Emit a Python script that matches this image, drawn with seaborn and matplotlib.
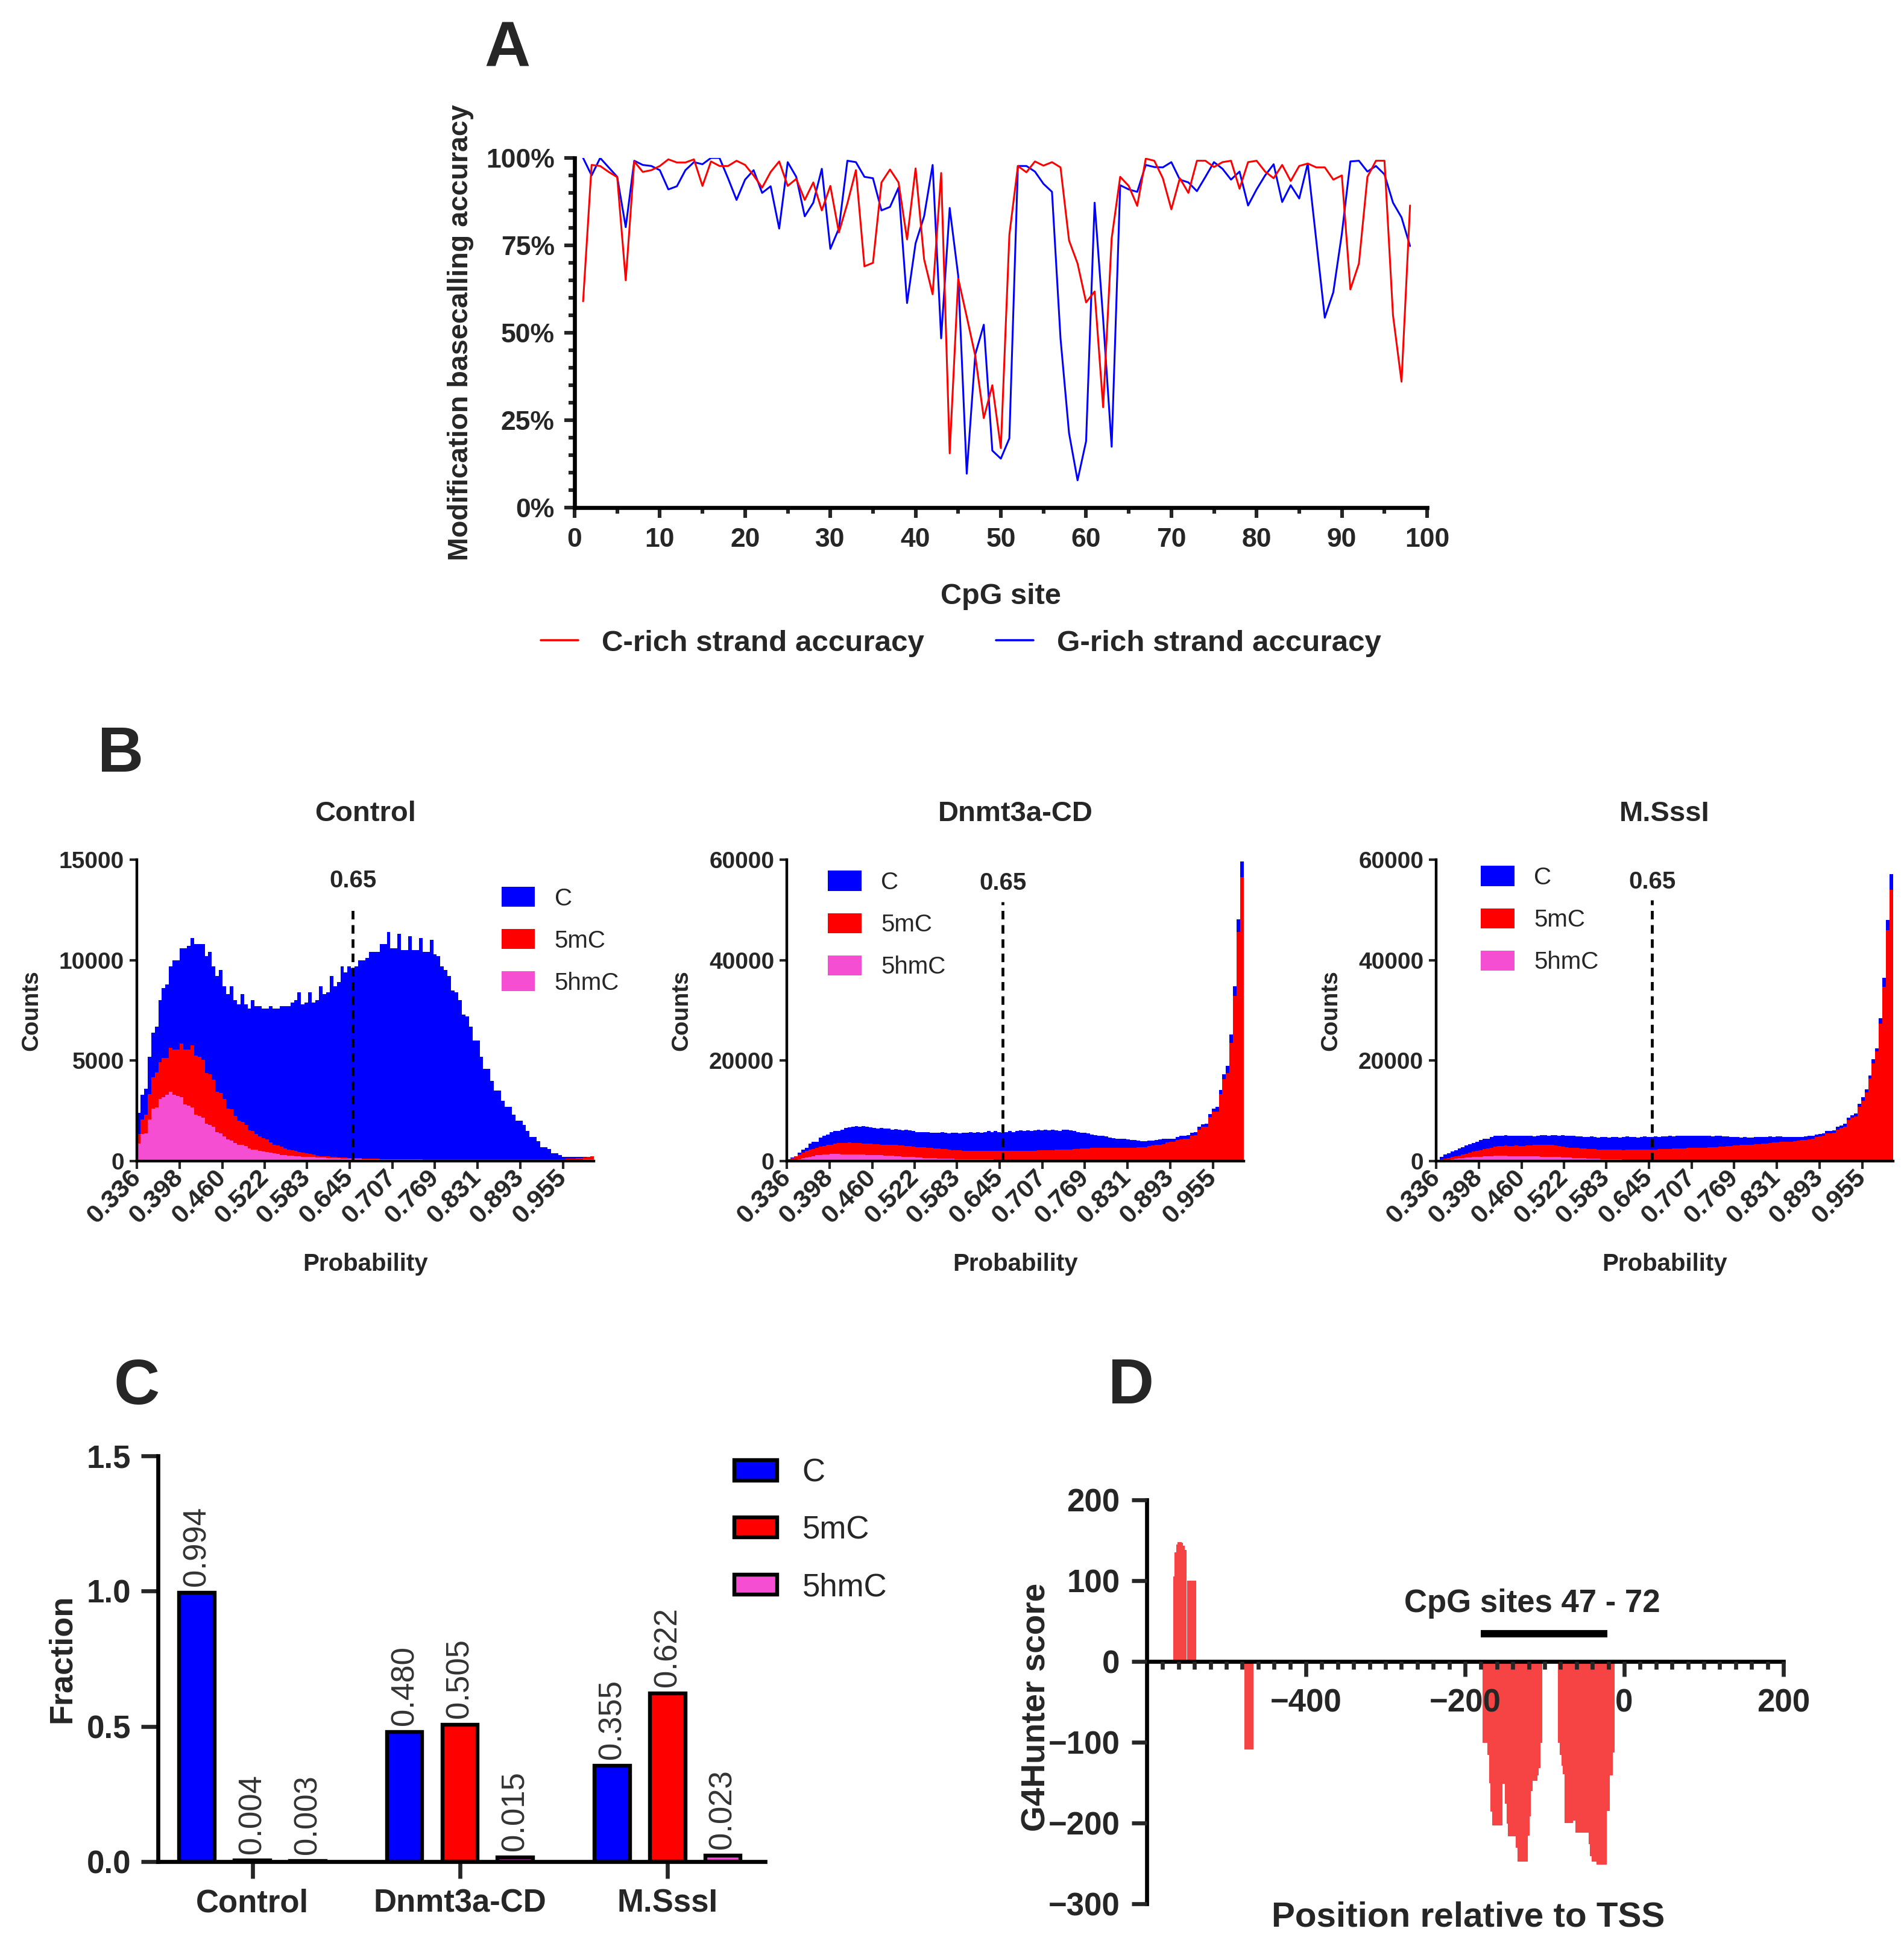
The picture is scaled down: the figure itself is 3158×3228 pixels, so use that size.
import numpy as np
import pandas as pd
import matplotlib
matplotlib.use("Agg")
import matplotlib.pyplot as plt
from matplotlib.patches import Patch
from matplotlib.lines import Line2D
from matplotlib.ticker import MultipleLocator, FixedLocator, FuncFormatter
import seaborn as sns

# ---------------- data: panel A ----------------
cpg_sites = list(range(1, 99))
c_rich_acc = [59, 98, 97.7, 96, 94.5, 65, 99, 96, 96.5, 97.7,
              99.6, 98.7, 98.7, 99.6, 92, 99, 97.7, 97.7, 99.2, 98,
              95, 91.5, 96, 99, 92, 94, 88, 93, 85, 92,
              78.7, 87, 96.5, 69, 70, 93, 96.7, 93, 76.7, 97,
              71, 61, 95.7, 15.5, 65.5, 54.6, 43.4, 25.6, 35, 17,
              78, 97.7, 95.9, 99, 97.8, 98.8, 97.3, 76.4, 69.8, 58.7,
              61.8, 28.7, 77, 94.6, 92, 86.3, 99.8, 99.2, 94.2, 85.3,
              94.2, 90, 99.2, 99.2, 97.4, 98.8, 99.2, 91.2, 98.8, 99.2,
              96.1, 94.2, 98, 93.4, 97.7, 98.4, 97.3, 97.3, 93.8, 95,
              62.4, 69.8, 94.6, 99.2, 99.2, 55, 36, 86.4]
g_rich_acc = [100, 95, 100, 97.3, 94.6, 80.2, 99.2, 98, 97.7, 96.5,
              91, 91.9, 96.5, 98.8, 98.2, 100, 100, 94.2, 88, 93.8,
              96.5, 90, 91.9, 79.8, 98.8, 94.6, 83.3, 87.2, 96.9, 74,
              79.8, 99.2, 98.8, 94.6, 94.2, 85, 86, 91.5, 58.5, 75.6,
              83.3, 98, 48.4, 85.7, 66.3, 9.7, 43.8, 52.3, 16.3, 14,
              19.8, 97.7, 97.7, 96.1, 92.6, 90.3, 48.4, 21.3, 7.8, 19,
              87.2, 53.9, 17.4, 92.2, 91, 90.3, 98, 97.4, 97.3, 98.8,
              93.8, 93, 90.5, 94.6, 98.8, 96.9, 93.8, 96.1, 86.4, 91,
              95, 98.2, 87.4, 92.2, 88.4, 98.4, 76.4, 54.3, 61.6, 78.3,
              99, 99.2, 96.1, 97.7, 95.3, 87.2, 83, 74.8]

# ---------------- data: panel B (128 probability bins, 0.336 - 1.0) ----------------
prob_lo, prob_hi, n_bins = 0.336, 1.0, 128
prob_ticks = ['0.336', '0.398', '0.460', '0.522', '0.583', '0.645',
              '0.707', '0.769', '0.831', '0.893', '0.955']
# envelopes: all calls (C on top), 5mC+5hmC, 5hmC
ctrl_all = [2400, 3300, 3600, 5200, 6400, 6700, 8000, 8600, 8800, 9700,
            10000, 10000, 10600, 10600, 10700, 11100, 10800, 10800, 10800, 10200,
            10400, 9700, 9200, 9500, 8700, 8300, 8700, 8000, 7800, 8300,
            7800, 7600, 8000, 7700, 7700, 7600, 7600, 7700, 7600, 7600,
            7700, 7700, 7700, 7900, 8000, 8400, 7800, 7900, 8400, 7900,
            8000, 8700, 8300, 8400, 9200, 8700, 8900, 9700, 9400, 9700,
            9600, 9700, 10000, 10000, 10100, 10400, 10400, 10400, 10800, 10800,
            11400, 10600, 10600, 11300, 10500, 10500, 11200, 10500, 10500, 11100,
            10400, 10400, 11000, 10300, 10200, 9700, 9500, 9200, 8500, 8400,
            8000, 7300, 7200, 6700, 6000, 6000, 5200, 4600, 4600, 4000,
            3500, 3500, 3000, 2700, 2700, 2300, 2000, 2000, 1800, 1500,
            1200, 1200, 1000, 700, 700, 600, 400, 400, 300, 200,
            200, 200, 200, 200, 200, 200, 200, 250]
ctrl_mod = [1340, 2060, 2310, 3340, 4160, 4420, 4930, 5140, 5140, 5650,
            5550, 5550, 5860, 5550, 5550, 5760, 5240, 5190, 5040, 4370,
            4320, 4060, 3440, 3390, 3080, 2620, 2570, 2260, 2000, 1950,
            1800, 1540, 1490, 1340, 1230, 1130, 1080, 920, 820, 770,
            720, 620, 560, 530, 510, 460, 430, 390, 360, 330,
            260, 240, 240, 230, 210, 200, 190, 180, 170, 160,
            150, 140, 140, 130, 120, 120, 110, 110, 100, 100,
            100, 100, 100, 100, 100, 100, 100, 100, 100, 100,
            100, 100, 100, 100, 100, 100, 100, 100, 100, 100,
            100, 100, 100, 100, 100, 100, 100, 100, 100, 100,
            100, 100, 100, 100, 100, 100, 100, 100, 100, 100,
            100, 100, 100, 100, 100, 100, 100, 100, 100, 100,
            110, 120, 130, 140, 160, 180, 200, 250]
ctrl_hmc = [870, 1340, 1390, 2060, 2620, 2670, 3080, 3190, 3290, 3440,
            3290, 3240, 3190, 2830, 2770, 2670, 2310, 2260, 2160, 1850,
            1800, 1700, 1440, 1390, 1230, 1080, 1030, 900, 820, 820,
            750, 620, 570, 570, 510, 490, 460, 410, 390, 360,
            310, 310, 280, 260, 240, 230, 220, 210, 200, 200,
            190, 180, 170, 160, 150, 150, 140, 130, 130, 120,
            120, 110, 110, 100, 100, 100, 90, 90, 90, 90,
            90, 80, 80, 80, 80, 80, 80, 80, 80, 80,
            70, 70, 70, 70, 70, 70, 70, 70, 70, 70,
            70, 70, 70, 70, 70, 70, 70, 70, 70, 70,
            60, 60, 60, 60, 60, 60, 60, 60, 60, 60,
            60, 60, 60, 60, 60, 60, 60, 60, 60, 60,
            60, 60, 60, 60, 70, 80, 90, 100]

dn_all = [400, 700, 1000, 1700, 2300, 2600, 3500, 3800, 3800, 4700,
          5000, 5300, 5800, 6000, 6000, 6300, 6600, 6700, 6900, 7000,
          6900, 7000, 6900, 6700, 6600, 6500, 6600, 6500, 6500, 6300,
          6400, 6300, 6100, 6300, 6100, 6000, 5800, 5800, 5800, 5800,
          5700, 5700, 5700, 5800, 5700, 5500, 5700, 5600, 5500, 5600,
          5700, 5800, 5700, 5800, 5700, 5800, 6000, 5800, 6000, 5800,
          5700, 5800, 6000, 5800, 6000, 6100, 6000, 6100, 6000, 6100,
          6200, 6100, 6300, 6100, 6200, 6100, 6000, 6300, 6200, 6100,
          6000, 5800, 5700, 5600, 5500, 5300, 5200, 5000, 5000, 4900,
          4700, 4600, 4500, 4400, 4400, 4300, 4200, 4200, 4100, 4000,
          4000, 4100, 4100, 4200, 4300, 4400, 4400, 4500, 4500, 4800,
          5000, 5000, 5200, 5700, 5800, 6900, 7300, 7400, 9400, 10500,
          10800, 14200, 17300, 19000, 25200, 34800, 48100, 59600]
dn_mod = [300, 550, 1000, 1350, 1650, 2000, 2300, 2400, 2600, 2900,
          3000, 3200, 3300, 3500, 3600, 3600, 3600, 3700, 3600, 3600,
          3600, 3500, 3500, 3500, 3400, 3400, 3300, 3300, 3300, 3200,
          3200, 3100, 3100, 3000, 3000, 2900, 2800, 2800, 2800, 2700,
          2600, 2500, 2500, 2400, 2400, 2300, 2200, 2200, 2200, 2100,
          2100, 2000, 2000, 2000, 2000, 2000, 2000, 2000, 2000, 2000,
          2000, 2000, 2000, 2000, 2000, 2100, 2100, 2100, 2100, 2100,
          2200, 2200, 2200, 2200, 2200, 2300, 2300, 2300, 2300, 2300,
          2400, 2400, 2500, 2500, 2500, 2600, 2600, 2600, 2600, 2700,
          2700, 2700, 2700, 2700, 2700, 2700, 2700, 2700, 2800, 2800,
          2800, 3000, 3100, 3200, 3300, 3400, 3700, 3800, 3900, 4200,
          4300, 4400, 4500, 5000, 5200, 6300, 6800, 6900, 8800, 9800,
          9900, 13300, 16300, 17500, 23500, 32900, 45600, 56500]
dn_hmc = [100, 200, 300, 400, 550, 700, 900, 1000, 1150, 1250,
          1350, 1350, 1400, 1400, 1400, 1350, 1350, 1350, 1350, 1300,
          1300, 1300, 1250, 1250, 1200, 1200, 1150, 1100, 1100, 1050,
          1000, 950, 900, 900, 850, 800, 750, 700, 650, 600,
          550, 550, 500, 500, 450, 450, 430, 420, 400, 400,
          380, 370, 360, 350, 340, 330, 320, 310, 300, 300,
          290, 280, 270, 260, 250, 240, 230, 220, 210, 200,
          200, 190, 180, 170, 160, 150, 150, 140, 130, 120,
          120, 110, 100, 100, 100, 90, 90, 90, 80, 80,
          80, 70, 70, 70, 60, 60, 60, 60, 50, 50,
          50, 50, 50, 50, 50, 50, 50, 50, 50, 50,
          50, 50, 50, 50, 50, 50, 50, 50, 50, 50,
          50, 50, 50, 50, 50, 50, 50, 50]

ms_all = [300, 800, 1300, 1600, 1900, 2200, 2500, 2800, 3100, 3400,
          3600, 3900, 4200, 4400, 4500, 4800, 5100, 5000, 5100, 5200,
          5100, 5000, 5100, 5100, 5000, 5100, 5000, 4900, 5100, 5200,
          5200, 5100, 5200, 5200, 5100, 5200, 5100, 5000, 5000, 4900,
          4900, 4800, 4800, 4900, 4800, 4700, 4800, 4800, 4700, 4800,
          4800, 4700, 4800, 4900, 4800, 4800, 4700, 4800, 4900, 4800,
          4800, 4900, 4800, 4900, 4900, 5000, 4900, 5000, 5000, 5100,
          5000, 5000, 5100, 5000, 5000, 5100, 5000, 4900, 5000, 5000,
          4900, 4900, 4800, 4800, 4800, 4700, 4800, 4700, 4700, 4800,
          4800, 4800, 4800, 4900, 4800, 4900, 4900, 4800, 4800, 4800,
          4800, 4800, 4800, 4900, 5000, 5000, 5300, 5400, 5500, 6000,
          6000, 6100, 6900, 7100, 7400, 8700, 9100, 9500, 11400, 12700,
          14300, 17100, 20300, 22500, 28500, 36500, 48000, 57100]
ms_mod = [200, 350, 500, 650, 800, 950, 1100, 1300, 1500, 1700,
          1900, 2050, 2200, 2350, 2500, 2700, 2900, 3000, 3000, 3100,
          3000, 3000, 3100, 3000, 3000, 3100, 3100, 3200, 3300, 3300,
          3200, 3300, 3200, 3100, 3000, 2900, 2800, 2700, 2600, 2600,
          2500, 2500, 2400, 2400, 2400, 2300, 2300, 2300, 2300, 2300,
          2300, 2300, 2200, 2300, 2300, 2300, 2300, 2300, 2300, 2300,
          2300, 2300, 2400, 2400, 2400, 2400, 2500, 2500, 2500, 2500,
          2600, 2600, 2600, 2700, 2700, 2700, 2800, 2800, 2800, 2900,
          2900, 3000, 3000, 3100, 3100, 3200, 3200, 3300, 3300, 3400,
          3400, 3500, 3500, 3600, 3700, 3700, 3800, 3900, 3900, 3900,
          4000, 4100, 4200, 4200, 4300, 4500, 4800, 4900, 5000, 5500,
          5500, 5600, 6300, 6600, 6900, 8200, 8700, 8900, 10800, 12000,
          13700, 16400, 19400, 21800, 27400, 34700, 45900, 54000]
ms_hmc = [100, 150, 200, 300, 400, 500, 600, 650, 700, 750,
          800, 850, 900, 950, 1000, 1000, 1050, 1050, 1050, 1050,
          1000, 1000, 1000, 1000, 1000, 950, 950, 950, 950, 900,
          900, 900, 850, 850, 800, 750, 700, 700, 650, 600,
          600, 550, 500, 500, 450, 450, 400, 400, 380, 360,
          340, 320, 300, 290, 280, 270, 260, 250, 240, 230,
          220, 210, 200, 190, 180, 170, 160, 150, 140, 130,
          120, 110, 100, 100, 100, 90, 90, 90, 80, 80,
          70, 70, 70, 70, 70, 70, 70, 70, 70, 70,
          60, 60, 60, 60, 60, 60, 60, 60, 60, 60,
          60, 60, 60, 60, 60, 60, 60, 60, 60, 60,
          50, 50, 50, 50, 50, 50, 50, 50, 50, 50,
          50, 50, 50, 50, 50, 50, 50, 50]
threshold = 0.65

# ---------------- data: panel C ----------------
samples = ['Control', 'Dnmt3a-CD', 'M.SssI']
calls = ['C', '5mC', '5hmC']
fraction = [0.994, 0.004, 0.003,
            0.480, 0.505, 0.015,
            0.355, 0.622, 0.023]

# ---------------- data: panel D ----------------
g4_pos = [-566, -564, -562, -560, -558, -556, -554, -552,
          -548, -546, -544, -542, -540,
          -476, -474, -472, -470, -468,
          -177, -175, -173, -171, -169, -167, -165, -163, -161, -159,
          -157, -155, -153, -151, -149, -147, -145, -143, -141, -139,
          -137, -135, -133, -131, -129, -127, -125, -123, -121, -119,
          -117, -115, -113, -111, -109, -107, -105,
          -82, -80, -78, -76, -74, -72, -70, -68, -66, -64,
          -62, -60, -58, -56, -54, -52, -50, -48, -46, -44,
          -42, -40, -38, -36, -34, -32, -30, -28, -26, -24,
          -22, -20, -18, -16, -14]
g4_score = [105, 135, 145, 148, 148, 147, 143, 138,
            100, 100, 100, 100, 100,
            -108, -108, -108, -108, -108,
            -100, -100, -100, -115, -150, -185, -202, -202, -202, -202,
            -202, -202, -151, -151, -175, -200, -216, -216, -216, -216,
            -216, -230, -247, -247, -247, -247, -247, -247, -215, -191,
            -160, -147, -147, -147, -140, -131, -100,
            -100, -115, -128, -139, -199, -199, -199, -199, -199, -196,
            -196, -211, -211, -211, -211, -211, -211, -211, -211, -225,
            -240, -247, -247, -247, -251, -251, -251, -251, -251, -251,
            -184, -184, -140, -140, -112]
cpg_window = (-180, -21)

BLUE, RED, PINK, G4RED = '#0000FF', '#FF0000', '#F54ED3', '#F64444'

# ---------------- figure ----------------
sns.set_style("ticks")
plt.rcParams['font.family'] = ['Liberation Sans', 'DejaVu Sans']
plt.rcParams['font.weight'] = 'bold'
plt.rcParams['axes.labelweight'] = 'bold'
plt.rcParams['axes.titleweight'] = 'bold'
plt.rcParams['axes.unicode_minus'] = True

W, H, DPI = 3158, 3228, 200
fig = plt.figure(figsize=(W / DPI, H / DPI), dpi=DPI)


def box(x0, y0, x1, y1):
    # pixel box (top-left origin) -> figure fraction rect
    return [x0 / W, 1 - y1 / H, (x1 - x0) / W, (y1 - y0) / H]


def style_spines(ax, lw):
    sns.despine(ax=ax)
    for s in ('left', 'bottom'):
        ax.spines[s].set_linewidth(lw)
        ax.spines[s].set_color('black')


# ===== A: basecalling accuracy =====
axA = fig.add_axes(box(953, 262, 2367, 842))
dfA = pd.DataFrame({'site': cpg_sites * 2,
                    'acc': g_rich_acc + c_rich_acc,
                    'strand': ['G-rich strand accuracy'] * 98 + ['C-rich strand accuracy'] * 98})
sns.lineplot(data=dfA, x='site', y='acc', hue='strand',
             hue_order=['G-rich strand accuracy', 'C-rich strand accuracy'],
             palette={'G-rich strand accuracy': BLUE, 'C-rich strand accuracy': RED},
             linewidth=1.1, errorbar=None, legend=False, ax=axA)
axA.set_xlim(0, 100)
axA.set_ylim(0, 100)
axA.xaxis.set_major_locator(MultipleLocator(10))
axA.xaxis.set_minor_locator(MultipleLocator(5))
axA.yaxis.set_major_locator(MultipleLocator(25))
axA.yaxis.set_minor_locator(MultipleLocator(5))
axA.yaxis.set_major_formatter(FuncFormatter(lambda v, p: f"{v:.0f}%"))
style_spines(axA, 2.4)
axA.tick_params(which='major', length=6, width=2.2, labelsize=16, pad=6)
axA.tick_params(which='minor', length=3.5, width=2.2)
axA.set_xlabel('CpG site', fontsize=17.5)
axA.xaxis.set_label_coords(0.5, (842 - 989) / 580)
axA.xaxis.label.set_va('center')
axA.set_ylabel('Modification basecalling accuracy', fontsize=16.8)
axA.yaxis.set_label_coords((764 - 953) / 1414, 0.5)
axA.yaxis.label.set_va('center')
fig.legend(handles=[Line2D([], [], color=RED, lw=1.3, label='C-rich strand accuracy'),
                    Line2D([], [], color=BLUE, lw=1.3, label='G-rich strand accuracy')],
           loc='center', bbox_to_anchor=(1594 / W, 1 - 1067 / H), ncol=2, frameon=False,
           fontsize=17.8, handlelength=1.25, handletextpad=0.79, columnspacing=2.4)

# ===== B: probability histograms =====
edges = np.linspace(prob_lo, prob_hi, n_bins + 1)
centers = (edges[:-1] + edges[1:]) / 2
hist_panels = [
    ('Control', ctrl_all, ctrl_mod, ctrl_hmc, 15000, 5000, 227, (0.798, 0.910), 13950, 12580),
    ('Dnmt3a-CD', dn_all, dn_mod, dn_hmc, 60000, 20000, 1305, (0.090, 0.963), 55300, 51600),
    ('M.SssI', ms_all, ms_mod, ms_hmc, 60000, 20000, 2382, (0.098, 0.979), 55500, 52000),
]
for name, v_all, v_mod, v_hmc, ymax, ystep, left, leg_xy, lab_y, dash_top in hist_panels:
    ax = fig.add_axes(box(left, 1426, left + 758, 1926))
    for vals, col in ((v_all, BLUE), (v_mod, RED), (v_hmc, PINK)):
        dfh = pd.DataFrame({'prob': centers, 'count': np.array(vals, dtype=float)})
        sns.histplot(data=dfh, x='prob', weights='count', bins=n_bins, binrange=(prob_lo, prob_hi),
                     element='step', fill=True, color=col, alpha=1, linewidth=0, ax=ax)
    ax.set_xlim(prob_lo, prob_hi)
    ax.set_ylim(0, ymax)
    ax.set_xticks([float(t) for t in prob_ticks])
    ax.set_xticklabels(prob_ticks)
    plt.setp(ax.get_xticklabels(), rotation=45, ha='right', va='center', rotation_mode='anchor')
    ax.set_yticks(np.arange(0, ymax + 1, ystep))
    style_spines(ax, 1.6)
    ax.tick_params(length=4.5, width=1.5, labelsize=14, pad=3)
    ax.tick_params(axis='x', labelsize=15.5)
    ax.vlines(threshold, 0, dash_top, colors='black', linestyles=(0, (3, 2)), linewidth=1.7)
    ax.text(threshold, lab_y, f"{threshold:.2f}", ha='center', va='center', fontsize=14.5)
    ax.set_title(name, fontsize=17, pad=23)
    ax.set_xlabel('Probability', fontsize=14.5)
    ax.xaxis.set_label_coords(0.5, (1926 - 2097) / 500)
    ax.xaxis.label.set_va('center')
    ax.set_ylabel('Counts', fontsize=14)
    ax.yaxis.set_label_coords(-0.23, 0.5)
    ax.yaxis.label.set_va('center')
    ax.legend(handles=[Patch(facecolor=c, edgecolor='none', label=l)
                       for c, l in zip((BLUE, RED, PINK), calls)],
              loc='upper left', bbox_to_anchor=leg_xy, frameon=False,
              prop={'weight': 'normal', 'size': 14.5}, handlelength=1.38, handleheight=0.9,
              handletextpad=0.8, labelspacing=0.78, borderpad=0, borderaxespad=0)

# ===== C: fractions =====
axC = fig.add_axes(box(262, 2415, 1269, 3088))
dfC = pd.DataFrame({'sample': np.repeat(samples, 3), 'call': calls * 3, 'fraction': fraction})
sns.barplot(data=dfC, x='sample', y='fraction', hue='call', order=samples, hue_order=calls,
            palette=dict(zip(calls, (BLUE, RED, PINK))), saturation=1, width=0.8, gap=0.36,
            edgecolor='black', linewidth=2.3, errorbar=None, legend=False, ax=axC)
for cont in axC.containers:
    axC.bar_label(cont, fmt='%.3f', rotation=90, padding=4, fontsize=19,
                  fontweight='normal', color='#333333')
axC.set_xlim(-0.455, 2.47)
axC.set_ylim(0, 1.5)
axC.set_yticks([0, 0.5, 1.0, 1.5])
axC.yaxis.set_major_formatter(FuncFormatter(lambda v, p: f"{v:.1f}"))
style_spines(axC, 2.4)
axC.tick_params(length=10, width=2.4, labelsize=19, pad=6)
axC.set_xlabel('')
axC.set_ylabel('Fraction', fontsize=19.5)
axC.yaxis.set_label_coords((103 - 262) / 1007, 0.5)
axC.yaxis.label.set_va('center')
axC.legend(handles=[Patch(facecolor=c, edgecolor='black', linewidth=2.3, label=l)
                    for c, l in zip((BLUE, RED, PINK), calls)],
           loc='upper left', bbox_to_anchor=(0.949, 0.995), frameon=False,
           prop={'weight': 'normal', 'size': 19}, handlelength=1.36, handleheight=0.6,
           handletextpad=0.78, labelspacing=0.85, borderpad=0, borderaxespad=0)

# ===== D: G4Hunter =====
axD = fig.add_axes(box(1902, 2488, 2958, 3158))
axD.bar(g4_pos, g4_score, width=2.0, color=G4RED, edgecolor=G4RED, linewidth=0.4)
axD.set_axisbelow(False)
axD.set_xlim(-600, 200)
axD.set_ylim(-300, 200)
style_spines(axD, 2.4)
axD.spines['bottom'].set_position(('data', 0))
axD.xaxis.set_major_locator(FixedLocator([-400, -200, 0, 200]))
axD.xaxis.set_minor_locator(FixedLocator([v for v in range(-580, 200, 20) if v % 200]))
axD.yaxis.set_major_locator(MultipleLocator(100))
axD.tick_params(which='major', length=9, width=2.4, labelsize=19, pad=7)
axD.tick_params(which='minor', length=4.6, width=2.4)
axD.plot(cpg_window, [34, 34], color='black', lw=4.4, solid_capstyle='butt')
axD.text(-116, 72, 'CpG sites 47 - 72', ha='center', va='center', fontsize=19)
axD.set_xlabel('Position relative to TSS', fontsize=21)
axD.xaxis.set_label_coords(0.505, -0.034)
axD.xaxis.label.set_va('center')
axD.set_ylabel('G4Hunter score', fontsize=19.8)
axD.yaxis.set_label_coords(-0.173, 0.487)
axD.yaxis.label.set_va('center')

# panel letters
for letter, (px, py) in {'A': (842, 83), 'B': (200, 1253), 'C': (227, 2301), 'D': (1876, 2301)}.items():
    fig.text(px / W, 1 - py / H, letter, ha='center', va='center', fontsize=38)

fig.savefig('out.png', dpi=DPI)
